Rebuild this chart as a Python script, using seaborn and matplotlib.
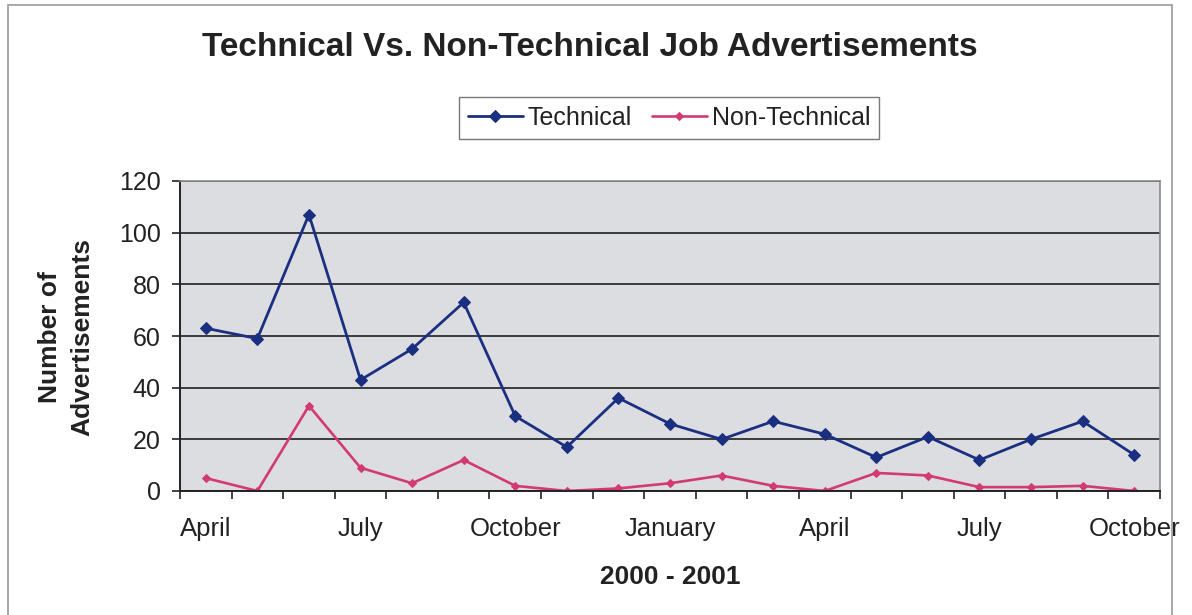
import matplotlib
matplotlib.use("Agg")
import matplotlib.pyplot as plt
from matplotlib.patches import Rectangle
from matplotlib.ticker import FixedLocator, NullFormatter
import numpy as np
import pandas as pd
import seaborn as sns

# Monthly job advertisement counts, April 2000 - October 2001
months = ["April", "May", "June", "July", "August", "September", "October",
          "November", "December", "January", "February", "March", "April",
          "May", "June", "July", "August", "September", "October"]
technical = [63, 59, 107, 43, 55, 73, 29, 17, 36, 26, 20, 27, 22, 13, 21, 12, 20, 27, 14]
non_technical = [5, 0, 33, 9, 3, 12, 2, 0, 1, 3, 6, 2, 0, 7, 6, 1.5, 1.5, 2, 0]
label_every = 3
y_ticks = [0, 20, 40, 60, 80, 100, 120]

sns.set_theme(style="white")
plt.rcParams["font.family"] = ["Liberation Sans", "DejaVu Sans"]

df = pd.DataFrame({
    "idx": np.arange(len(months)),
    "Technical": technical,
    "Non-Technical": non_technical,
})

W, H = 1192, 615
fig = plt.figure(figsize=(W / 100, H / 100), dpi=100)
ax = fig.add_axes([180 / W, 1 - 491 / H, 980 / W, 310 / H])
ax.set_facecolor("#dcdde1")

navy = "#1a2f80"
pink = "#d23a74"
ink = "#222222"
sns.lineplot(data=df, x="idx", y="Technical", ax=ax, color=navy, lw=2.0,
             marker="D", markersize=6, markeredgecolor=navy, label="Technical")
sns.lineplot(data=df, x="idx", y="Non-Technical", ax=ax, color=pink, lw=1.9,
             marker="D", markersize=3.6, markeredgecolor=pink, label="Non-Technical")

ax.set_xlim(-0.5, len(months) - 0.5)
ax.set_ylim(0, 120)
ax.set_yticks(y_ticks)
ax.set_yticklabels([str(v) for v in y_ticks], fontsize=18, color=ink)

major = list(range(0, len(months), label_every))
ax.set_xticks(major)
ax.set_xticklabels([months[i] for i in major], fontsize=18.5, color=ink)
ax.xaxis.set_minor_locator(FixedLocator(np.arange(-0.5, len(months), 1.0)))
ax.xaxis.set_minor_formatter(NullFormatter())
ax.tick_params(axis="x", which="major", length=0, pad=19)
ax.tick_params(axis="x", which="minor", length=6, width=1.2, color=ink,
               direction="out", bottom=True)
ax.tick_params(axis="y", length=6, width=1.2, color=ink, direction="out",
               left=True, pad=8)

ax.grid(axis="y", color="#2e2e2e", lw=1.3)
ax.grid(axis="x", visible=False)
ax.set_axisbelow(True)

for side in ["top", "right"]:
    ax.spines[side].set_color("#8a8a8a")
    ax.spines[side].set_linewidth(1.2)
for side in ["left", "bottom"]:
    ax.spines[side].set_color(ink)
    ax.spines[side].set_linewidth(1.4)

ax.set_xlabel("")
ax.set_ylabel("")

leg = ax.legend(loc="center", bbox_to_anchor=(669 / W, 1 - 118 / H),
                bbox_transform=fig.transFigure, ncol=2, fontsize=18,
                frameon=True, fancybox=False, handlelength=2.2,
                handletextpad=0.2, columnspacing=0.8, borderpad=0.35)
leg.get_frame().set_edgecolor("#555555")
leg.get_frame().set_linewidth(1.0)
for txt in leg.get_texts():
    txt.set_color(ink)

fig.text(590 / W, 1 - 47 / H, "Technical Vs. Non-Technical Job Advertisements",
         ha="center", va="center", fontsize=24, fontweight="bold", color=ink)
fig.text(66 / W, 1 - 337 / H, "Number of\nAdvertisements", rotation=90,
         ha="center", va="center", fontsize=19, fontweight="bold",
         multialignment="center", color=ink, linespacing=1.45)
fig.text(670 / W, 1 - 577 / H, "2000 - 2001", ha="center", va="center",
         fontsize=19, fontweight="bold", color=ink)

# outer chart frame
fig.patches.append(Rectangle((8 / W, -0.05), (1172 - 8) / W, 1.05 - 5 / H,
                             transform=fig.transFigure, fill=False,
                             edgecolor="#9a9a9a", lw=1.2, zorder=10))

fig.savefig("out.png", dpi=100, facecolor="white")
